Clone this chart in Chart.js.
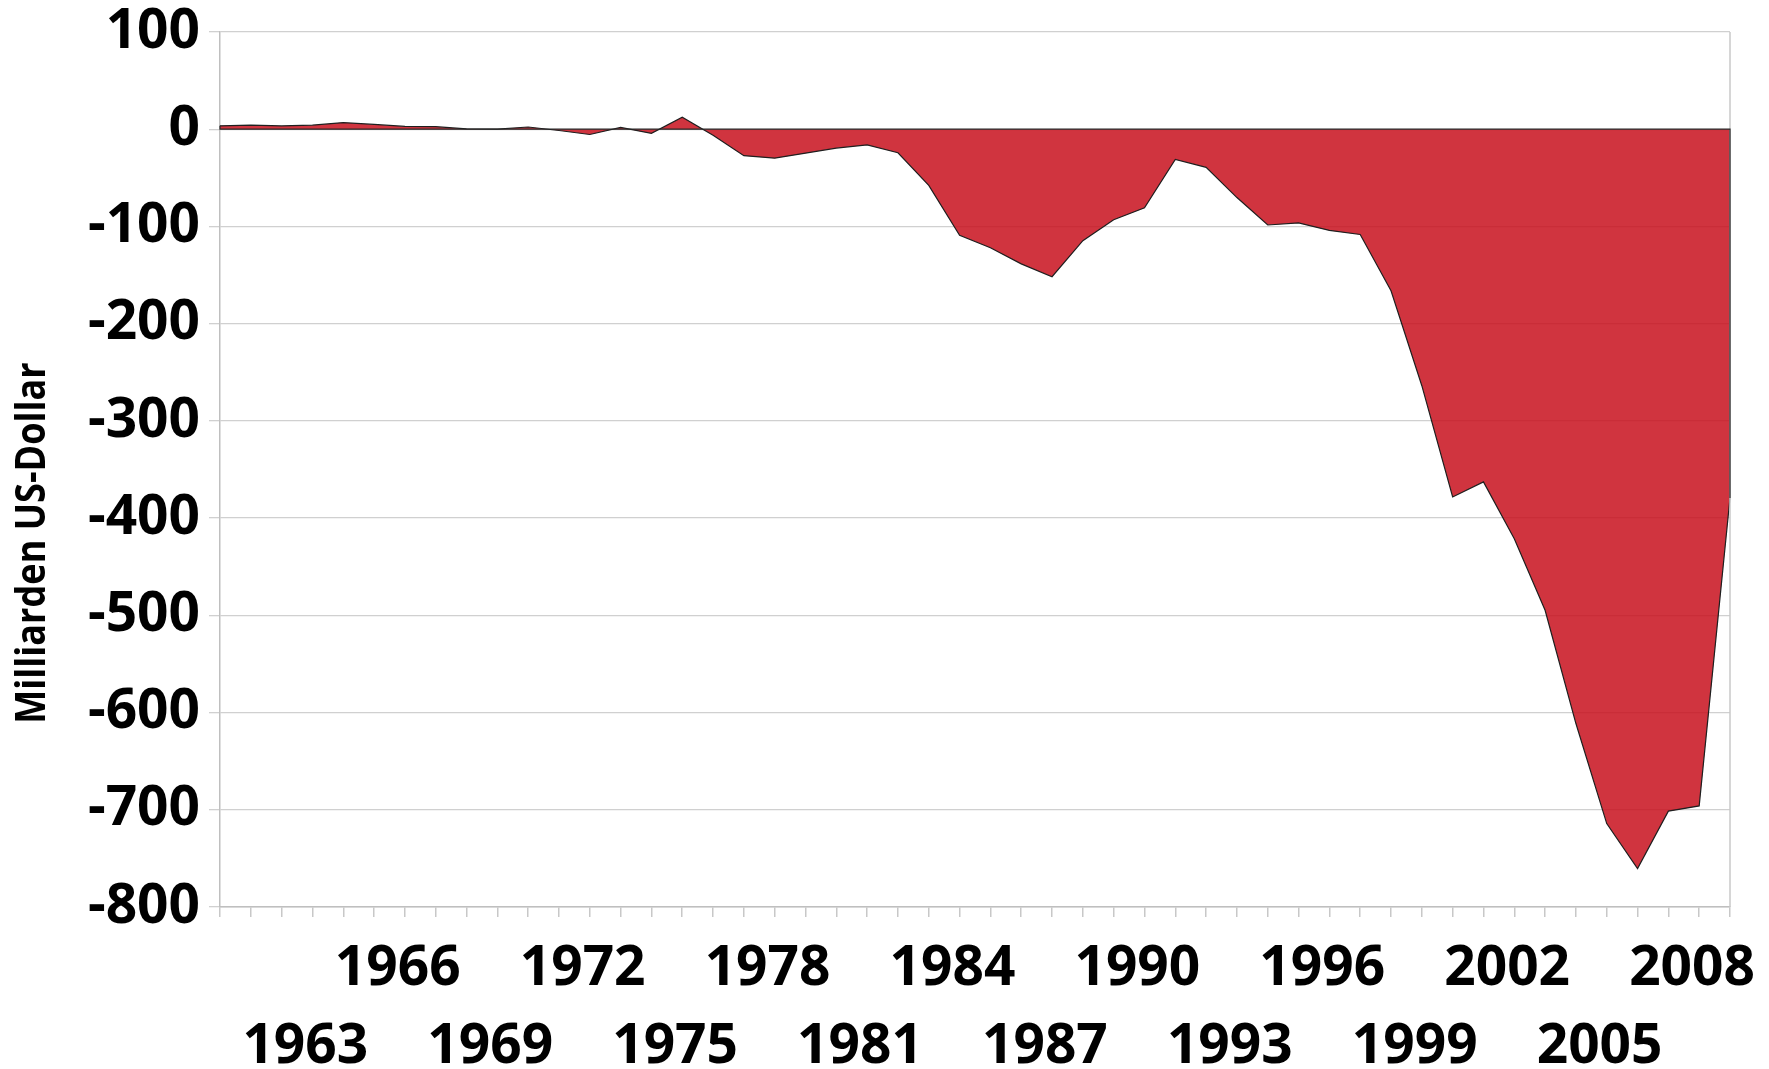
<!DOCTYPE html>
<html>
<head>
<meta charset="utf-8">
<script src="https://cdn.jsdelivr.net/npm/chart.js@4.4.0/dist/chart.umd.min.js"></script>
<style>
  body { margin: 0; background: #fff; }
  #wrap { width: 1769px; height: 1069px; }
</style>
</head>
<body>
<div id="wrap"><canvas id="tradeChart"></canvas></div>
<script>
(() => {

//----- Data -----//

    var years = [
        '1960', '1961', '1962', '1963', '1964', '1965', '1966', '1967', '1968', '1969',
        '1970', '1971', '1972', '1973', '1974', '1975', '1976', '1977', '1978', '1979',
        '1980', '1981', '1982', '1983', '1984', '1985', '1986', '1987', '1988', '1989',
        '1990', '1991', '1992', '1993', '1994', '1995', '1996', '1997', '1998', '1999',
        '2000', '2001', '2002', '2003', '2004', '2005', '2006', '2007', '2008', '2009'
    ]

    // Handelsbilanz, Milliarden US-Dollar
    var balance = [
        3.5, 4.2, 3.4, 4.2, 6.8, 4.9, 2.9, 2.6, 0.3, 0.1,
        2.3, -1.3, -5.4, 1.9, -4.3, 12.4, -6.1, -27.2, -29.8, -24.6,
        -19.4, -16.2, -24.2, -57.8, -109.1, -121.9, -138.5, -151.7, -114.6, -93.1,
        -80.9, -31.1, -39.2, -70.3, -98.5, -96.4, -104.1, -108.3, -166.1, -263.8,
        -378.3, -362.7, -421.2, -494.8, -611.3, -714.2, -760.4, -701.4, -696.0, -379.2
    ]

    var tickYears = ['1963', '1966', '1969', '1972', '1975', '1978', '1981', '1984',
        '1987', '1990', '1993', '1996', '1999', '2002', '2005', '2008']

    var yMin = -800
    var yMax = 100
    var yStep = 100

    var axisTitle = 'Milliarden US-Dollar'

//----- Plugin: outline, border, axis title -----//

    var extras = {
        id: 'extras',
        afterDatasetsDraw (chart) {
            var ctx = chart.ctx
            var area = chart.chartArea
            var xs = chart.scales.x
            var ys = chart.scales.y
            var last = balance.length - 1
            var y0 = ys.getPixelForValue(0)

            ctx.save()

            ctx.strokeStyle = '#C8C8C8'
            ctx.lineWidth = 1.5
            ctx.beginPath()
            ctx.moveTo(area.right, area.top)
            ctx.lineTo(area.right, area.bottom)
            ctx.stroke()

            ctx.strokeStyle = '#262626'
            ctx.lineWidth = 1.2
            ctx.beginPath()
            ctx.moveTo(xs.getPixelForValue(0), ys.getPixelForValue(balance[0]))
            ctx.lineTo(xs.getPixelForValue(0), y0)
            ctx.lineTo(xs.getPixelForValue(last), y0)
            ctx.lineTo(xs.getPixelForValue(last), ys.getPixelForValue(balance[last]))
            ctx.stroke()

            // y axis title, a bit condensed like the original
            ctx.translate(33, 543)
            ctx.rotate(-Math.PI / 2)
            ctx.scale(0.88, 1)
            ctx.fillStyle = '#000'
            ctx.font = 'bold 41px "Open Sans"'
            ctx.textAlign = 'center'
            ctx.textBaseline = 'middle'
            ctx.fillText(axisTitle, 0, 0)

            ctx.restore()
        }
    }

//----- Chart -----//

    new Chart(document.getElementById('tradeChart'), {
        type: 'line',
        data: {
            labels: years,
            datasets: [{
                data: balance,
                fill: 'origin',
                backgroundColor: 'rgba(200, 16, 29, 0.85)',
                borderColor: '#1f1f1f',
                borderWidth: 1.2,
                pointRadius: 0,
                tension: 0
            }]
        },
        options: {
            responsive: true,
            maintainAspectRatio: false,
            animation: false,
            layout: { padding: { left: 0, right: 39, top: 32, bottom: 0 } },
            plugins: {
                legend: { display: false },
                tooltip: { enabled: false }
            },
            scales: {
                x: {
                    grid: {
                        drawOnChartArea: false,
                        drawTicks: true,
                        tickLength: 10,
                        color: '#C8C8C8',
                        lineWidth: 1.5
                    },
                    border: { color: '#BFBFBF', width: 1.5 },
                    ticks: {
                        autoSkip: false,
                        maxRotation: 0,
                        minRotation: 0,
                        padding: 13,
                        color: '#000',
                        font: { family: '"Open Sans"', weight: 'bold', size: 55, lineHeight: 78 / 55 },
                        callback: function (value) {
                            var year = this.getLabelForValue(value)
                            var pos = tickYears.indexOf(year)
                            if (pos < 0) return ''
                            // trailing space nudges the label slightly left, as in the original
                            var text = year + ' '
                            return pos % 2 === 1 ? [text, ''] : ['', text]
                        }
                    },
                    afterFit: function (scale) { scale.height = 162 }
                },
                y: {
                    min: yMin,
                    max: yMax,
                    grid: {
                        color: '#D0D0D0',
                        lineWidth: 1.3,
                        drawTicks: true,
                        tickLength: 11
                    },
                    border: { color: '#BFBFBF', width: 1.5 },
                    ticks: {
                        stepSize: yStep,
                        padding: 9,
                        color: '#000',
                        font: { family: '"Open Sans"', weight: 'bold', size: 55, lineHeight: 0.8 }
                    },
                    afterFit: function (scale) { scale.width = 220 }
                }
            }
        },
        plugins: [extras]
    })

})();
</script>
</body>
</html>
